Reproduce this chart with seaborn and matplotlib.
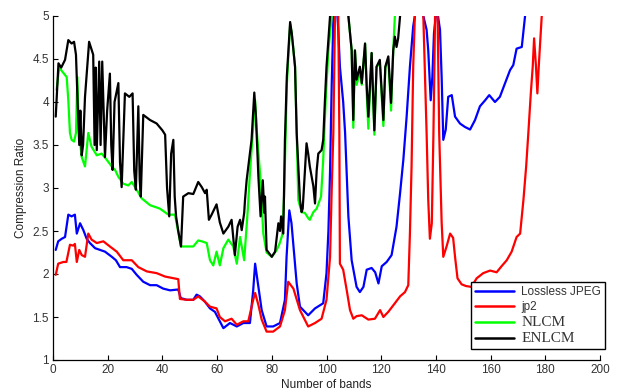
import matplotlib
matplotlib.use("Agg")
import matplotlib.pyplot as plt
import seaborn as sns
import pandas as pd

# ---------------- data ----------------
jpeg_x = [1, 1.9, 3.2, 4.4, 5.6, 6.8, 8, 8.7, 9.9, 11.1, 12.3, 13.5, 15.4, 17.2, 19, 21.5, 23, 24.5,
          26.9, 28.8, 30.6, 33, 35.5, 37.9, 40.3, 42.8, 45.8, 46.7, 48.9, 51.3, 52.5, 53.7, 55.5, 57.4,
          59.2, 61, 62.3, 64.7, 67.2, 69.6, 72, 73.2, 73.9, 75.1, 76.3, 78.1, 80.5, 83, 84.8, 85.4, 86.4,
          87.2, 89.1, 90.3, 93.3, 95.8, 98.8, 100, 100.7, 101.3, 101.9, 102.5, 103.4, 104.3, 104.9, 106.1,
          106.8, 108, 109.2, 111, 112.2, 113.5, 114.7, 116.5, 117.8, 119, 120.2, 122, 123.8, 125.6, 126.9,
          128.1, 129.3, 130.5, 131.7, 132.3, 134, 135.4, 136.6, 137.2, 138.1, 138.7, 139.3, 140.3, 141.5,
          142.1, 142.7, 143.6, 144.5, 145.8, 147, 148.8, 150.6, 152.5, 154.3, 156.1, 158, 159.5, 161.6,
          163.4, 165.3, 167.1, 168.3, 169.5, 171.4, 172.6, 173.5]
jpeg_y = [2.28, 2.38, 2.41, 2.43, 2.69, 2.67, 2.69, 2.47, 2.59, 2.51, 2.41, 2.36, 2.30, 2.28, 2.26, 2.20, 2.16, 2.08,
          2.08, 2.06, 1.99, 1.91, 1.87, 1.87, 1.83, 1.81, 1.82, 1.72, 1.70, 1.70, 1.76, 1.74, 1.68, 1.60,
          1.56, 1.45, 1.37, 1.43, 1.39, 1.43, 1.43, 1.81, 2.12, 1.85, 1.58, 1.39, 1.39, 1.43, 1.70, 2.20, 2.74,
          2.59, 1.89, 1.62, 1.52, 1.60, 1.66, 2.01, 2.50, 3.20, 4.20, 4.95, 5.30, 4.84, 4.41, 4.00,
          3.64, 2.67, 2.16, 1.85, 1.79, 1.85, 2.05, 2.07, 2.02, 1.89, 2.09, 2.14, 2.22, 2.55, 2.94,
          3.33, 3.83, 4.41, 4.88, 5.00, 5.30, 5.00, 4.84, 4.60, 4.02, 4.29, 4.80, 5.10, 4.84,
          4.29, 3.56, 3.68, 4.06, 4.08, 3.83, 3.75, 3.71, 3.68, 3.79, 3.95, 4.02, 4.08, 4.00,
          4.06, 4.22, 4.37, 4.43, 4.62, 4.64, 5.00, 5.20]

jp2_x = [1, 1.9, 3.8, 4.9, 6.2, 7.4, 8, 8.7, 9.6, 10.5, 11.7, 12.9, 14.1, 16, 18.4, 20.8, 23.3, 25.7, 28.8,
         31.2, 34.3, 37.9, 41, 45.8, 46.4, 48.9, 51.3, 53.1, 55.5, 57.4, 59.8, 61, 62.9, 65.3, 67.2, 69.6,
         71.4, 73.2, 73.9, 75.1, 76.3, 78.1, 80.5, 83, 84.8, 86, 87.9, 90.3, 93.3, 95.8, 98.2, 100, 101.3,
         101.9, 102.5, 103.1, 103.7, 104.3, 104.7, 104.9, 106.1, 107.4, 108.6, 109.8, 111, 112.9, 115.3,
         117.7, 119.6, 120.8, 122.6, 125, 126.9, 128.7, 129.9, 130.5, 131.1, 131.7, 132.3, 134, 135.4,
         136.6, 137.2, 137.8, 138.5, 139.1, 139.7, 140.5, 141.2, 142.1, 142.7, 143.9, 145.2, 146.3, 147,
         147.9, 149.4, 151, 153, 154.9, 157.3, 159.8, 162.2, 164, 165.9, 167.7, 169.5, 170.8, 172, 173,
         173.8, 174.7, 175.4, 175.9, 176.6, 177.1, 177.6, 178.1, 178.7, 179.2]
jp2_y = [1.99, 2.12, 2.14, 2.14, 2.34, 2.33, 2.35, 2.14, 2.28, 2.22, 2.20, 2.47, 2.40, 2.36, 2.38, 2.32, 2.26, 2.16, 2.16,
         2.08, 2.03, 2.01, 1.97, 1.94, 1.71, 1.70, 1.70, 1.74, 1.68, 1.62, 1.60, 1.50, 1.45, 1.48, 1.41, 1.45,
         1.45, 1.70, 1.78, 1.64, 1.47, 1.33, 1.33, 1.39, 1.58, 1.91, 1.83, 1.58, 1.39, 1.43, 1.48, 1.70, 2.20,
         2.98, 3.64, 5.00, 5.30, 5.00, 3.64, 2.12, 2.05, 1.81, 1.58, 1.48, 1.51, 1.52, 1.47,
         1.48, 1.58, 1.50, 1.56, 1.66, 1.74, 1.79, 1.87, 2.47, 3.25, 4.41, 5.00, 5.30, 5.00,
         3.64, 2.86, 2.41, 2.59, 3.64, 5.00, 5.30, 3.64, 2.60, 2.20, 2.32, 2.47, 2.42, 2.20,
         1.95, 1.88, 1.86, 1.85, 1.95, 2.01, 2.04, 2.02, 2.09, 2.16, 2.26, 2.43, 2.47, 2.86, 3.25,
         3.64, 4.10, 4.41, 4.74, 4.41, 4.10, 4.41, 4.68, 5.00, 5.30]

nlcm_x = [1.3, 2.3, 3, 5, 5.6, 6.2, 6.8, 7.7, 8.4, 8.9, 9.5, 10.5, 11.7, 12.9, 14.1, 16, 17.8, 19.6, 21.5,
          22.7, 23.9, 25.7, 27.5, 28.8, 30.6, 32.4, 35.5, 39.1, 42.2, 44.6, 46.8, 47.6, 51.3, 53.1, 54.4,
          56.2, 57.4, 58.6, 59.8, 61, 62.3, 64.1, 65.9, 67.2, 68.4, 69.9, 71.2, 72, 73.2, 73.9, 74.5, 75.7,
          76.9, 78.1, 80, 81.8, 82.8, 83.8, 84.5, 85.5, 86.7, 87.3, 88.5, 89.7, 90.9, 92.1, 93.3, 93.9,
          95.2, 96.4, 98, 98.8, 99.7, 100.7, 101.9, 104, 108, 109.2, 109.8, 110.4, 111, 112.2, 112.9,
          114.1, 114.7, 115.3, 116.5, 117.5, 118.3, 119.5, 120.8, 121.5, 122.6, 123.6, 124.4, 125, 125.6]
nlcm_y = [4.14, 4.41, 4.37, 4.29, 4.02, 3.64, 3.56, 3.54, 3.64, 4.29, 3.64, 3.36, 3.25, 3.64, 3.48, 3.38, 3.40, 3.33, 3.25,
          3.21, 3.13, 3.05, 3.03, 3.07, 2.98, 2.88, 2.80, 2.76, 2.69, 2.69, 2.32, 2.32, 2.32, 2.39, 2.38,
          2.36, 2.16, 2.10, 2.26, 2.10, 2.30, 2.40, 2.32, 2.12, 2.43, 2.16, 2.74, 3.17, 3.71, 4.02, 3.67, 3.17,
          2.47, 2.25, 2.20, 2.28, 2.35, 2.45, 2.90, 4.20, 4.90, 4.80, 4.41, 2.86, 2.72, 2.71, 2.65, 2.63,
          2.72, 2.76, 2.90, 3.33, 4.02, 4.60, 5.00, 5.40, 5.00, 4.60, 3.70, 4.60, 4.20, 4.35, 4.20,
          4.68, 4.10, 3.69, 4.57, 3.62, 4.41, 4.45, 3.72, 4.40, 4.50, 3.90, 4.60, 5.00, 5.30]

enlcm_x = [1, 2, 3, 4.4, 5.6, 6.8, 7.7, 8.4, 9, 9.6, 10, 10.5, 11, 11.7, 13.2, 14.7, 15.2, 15.6, 16, 16.9,
           17.4, 18, 19, 19.8, 20.8, 21.3, 21.8, 22.5, 23.9, 24.5, 25.1, 26.3, 27.9, 29.1, 29.7, 30.3, 31.2,
           31.7, 32.1, 33, 35.5, 37.9, 40, 41, 41.7, 42.5, 43.2, 44, 44.5, 45, 45.8, 46.8, 47.6, 49.5, 51.3,
           53.1, 54.4, 55.6, 56.2, 57, 58, 59.8, 61, 62.3, 64.1, 65.3, 66.5, 67.5, 68.4, 69, 69.9, 70.2,
           70.8, 71.4, 72.6, 73.6, 74.2, 75.1, 75.9, 76.7, 77.3, 77.5, 78.1, 80, 81.2, 82.4, 83, 83.4, 84.2,
           84.8, 85.5, 86.7, 87.3, 88.5, 89.1, 90.3, 90.9, 91.3, 92.7, 93.3, 93.9, 95.2, 95.8, 96.4, 97,
           98.2, 98.8, 99.4, 100, 101.3, 104, 108, 109.2, 109.8, 110.4, 111, 112.2, 112.9, 114.1, 114.7,
           115.3, 116.5, 117.5, 118.3, 119.5, 120.8, 121.5, 122.6, 123.6, 124.4, 125, 125.6, 126.2, 126.9,
           127.5]
enlcm_y = [3.83, 4.45, 4.40, 4.49, 4.72, 4.68, 4.70, 4.55, 4.00, 3.50, 3.90, 3.38, 3.50, 4.06, 4.70, 4.55, 3.50, 4.40, 3.44, 4.47,
           3.50, 4.47, 3.36, 3.90, 4.33, 3.50, 3.21, 4.00, 4.22, 3.30, 3.01, 4.10, 4.06, 4.10, 3.20, 2.98, 3.95,
           3.10, 2.90, 3.85, 3.79, 3.75, 3.67, 3.62, 3.00, 2.67, 3.40, 3.56, 2.90, 2.67, 2.50, 2.32, 2.90, 2.94, 2.93,
           3.07, 3.01, 2.94, 2.98, 2.63, 2.69, 2.81, 2.60, 2.47, 2.55, 2.63, 2.22, 2.55, 2.63, 2.51, 2.71, 2.86,
           3.09, 3.25, 3.56, 4.11, 3.83, 3.13, 2.67, 3.09, 2.71, 2.90, 2.28, 2.20, 2.26, 2.59, 2.50, 2.67, 2.47,
           3.56, 4.30, 4.93, 4.80, 4.41, 3.64, 2.86, 2.72, 2.76, 3.52, 3.40, 3.25, 3.02, 2.82, 3.20, 3.40,
           3.44, 3.56, 4.00, 4.41, 5.00, 5.40, 5.00, 4.60, 3.79, 4.60, 4.26, 4.41, 4.22, 4.68, 4.19,
           3.83, 4.57, 3.67, 4.41, 4.49, 3.79, 4.41, 4.53, 3.99, 4.60, 4.76, 4.64, 4.74, 5.00,
           5.30]

series_names = ["Lossless JPEG", "jp2", "NLCM", "ENLCM"]
series_colors = ["#0000ff", "#ff0000", "#00ff00", "#000000"]
x_ticks = [0, 20, 40, 60, 80, 100, 120, 140, 160, 180, 200]
y_ticks = [1, 1.5, 2, 2.5, 3, 3.5, 4, 4.5, 5]
y_tick_labels = ["1", "1.5", "2", "2.5", "3", "3.5", "4", "4.5", "5"]

# ---------------- figure ----------------
sns.set_theme(style="ticks")
plt.rcParams["font.family"] = ["Liberation Sans", "DejaVu Sans"]

fig = plt.figure(figsize=(6.17, 3.91), dpi=100)
ax = fig.add_axes([53 / 617, 31 / 391, 547 / 617, 344 / 391])

frames = []
for name, xs, ys in zip(series_names,
                        [jpeg_x, jp2_x, nlcm_x, enlcm_x],
                        [jpeg_y, jp2_y, nlcm_y, enlcm_y]):
    frames.append(pd.DataFrame({"band": xs, "ratio": ys, "method": name}))
df = pd.concat(frames, ignore_index=True)

for name, col in zip(series_names, series_colors):
    sub = df[df["method"] == name]
    sns.lineplot(data=sub, x="band", y="ratio", color=col, linewidth=1.6,
                 sort=False, estimator=None, ax=ax, label=name, legend=False)

ax.set_xlim(0, 200)
ax.set_ylim(1, 5)
ax.set_xticks(x_ticks)
ax.set_yticks(y_ticks)
ax.set_yticklabels(y_tick_labels)
ax.tick_params(direction="in", length=3.5, width=0.8, labelsize=8.5,
               colors="#000000", labelcolor="#333333", pad=3)
for s in ["top", "right"]:
    ax.spines[s].set_visible(False)
for s in ["left", "bottom"]:
    ax.spines[s].set_color("black")
    ax.spines[s].set_linewidth(0.9)

ax.set_xlabel("Number of bands", fontsize=8.5, color="#222222", labelpad=2)
ax.set_ylabel("Compression Ratio", fontsize=8.5, color="#222222", labelpad=4)

handles = ax.get_lines()[:4]
leg = ax.legend(handles, series_names, loc="upper left",
                bbox_to_anchor=(471 / 617, 1 - 282 / 391), bbox_transform=fig.transFigure,
                fontsize=8.5, frameon=True, fancybox=False, framealpha=1,
                edgecolor="black", borderpad=0.35, labelspacing=0.25,
                handlelength=3.3, handletextpad=0.6, borderaxespad=0)
leg.get_frame().set_linewidth(1.0)
for i, t in enumerate(leg.get_texts()):
    if i >= 2:
        t.set_fontfamily(["Liberation Serif", "DejaVu Serif"])
        t.set_fontsize(11)
    t.set_color("#333333")
for h in leg.get_lines():
    h.set_linewidth(1.8)

fig.savefig("out.png", dpi=100)
